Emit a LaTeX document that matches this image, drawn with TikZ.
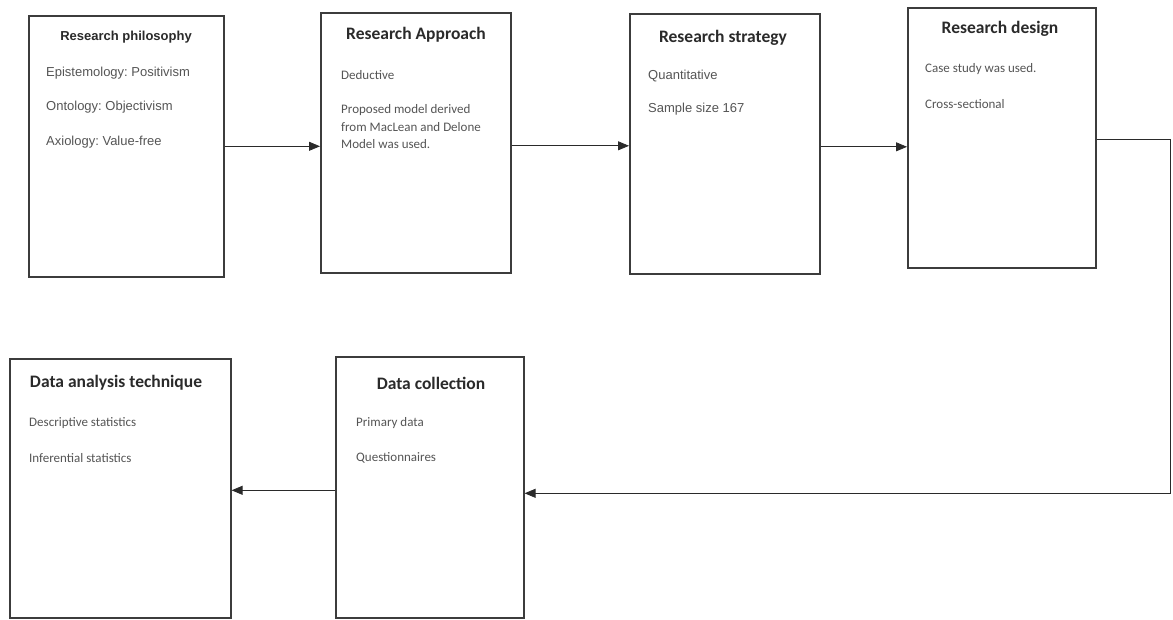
\documentclass[tikz,border=0pt]{standalone}
\usepackage{fontspec}
\setmainfont{Carlito}
\newfontfamily\arialfont{Liberation Sans}
\usetikzlibrary{arrows.meta, positioning}
\definecolor{boxline}{HTML}{3C3C3C}
\definecolor{inktext}{HTML}{2A2A2A}
\frenchspacing
\tikzset{
  stagebox/.style={
    rectangle, draw=boxline, line width=1.6pt, fill=white,
    anchor=north west, inner sep=0pt,
    minimum width=#1
  },
  headtext/.style={
    font=\fontsize{17.5}{20}\selectfont\bfseries, text=inktext,
    inner sep=0pt
  },
  itemtext/.style={
    font=\fontsize{13}{17.5}\selectfont, text=inktext!80,
    anchor=west, inner sep=0pt, align=left
  },
  sanstext/.style={
    font=\arialfont\fontsize{13}{15}\selectfont, text=inktext!80,
    anchor=west, inner sep=0pt
  },
  flowarrow/.style={-{Triangle[length=11pt,width=9pt]}, line width=0.8pt, color=inktext},
}
\begin{document}
\begin{tikzpicture}[x=1pt, y=-1pt]
  \useasboundingbox (0,0) rectangle (1173,619);
  % top row
  \node[stagebox=195pt, minimum height=261pt] (phil) at (28,15) {};
  \node[stagebox=190pt, minimum height=260pt] (appr) at (320,12) {};
  \node[stagebox=190pt, minimum height=260pt] (strat) at (629,13) {};
  \node[stagebox=188pt, minimum height=260pt] (design) at (907,7) {};
  % bottom row
  \node[stagebox=221pt, minimum height=259pt] (anal) at (9,358) {};
  \node[stagebox=188pt, minimum height=261pt] (coll) at (335,356) {};

  % research philosophy
  \node[headtext, font=\arialfont\fontsize{13}{15}\selectfont\bfseries] (philhead) at (126,37) {Research philosophy};
  \node[sanstext] (phil1) at (46,73) {Epistemology: Positivism};
  \node[sanstext] (phil2) at (46,107) {Ontology: Objectivism};
  \node[sanstext] (phil3) at (46,142) {Axiology: Value-free};

  % research approach
  \node[headtext] (apprhead) at (416,35) {Research Approach};
  \node[itemtext] (appr1) at (341,75) {Deductive};
  \node[itemtext] (appr2) at (341,127) {Proposed model derived\\from MacLean and Delone\\Model was used.};

  % research strategy
  \node[headtext] (strathead) at (723,38) {Research strategy};
  \node[sanstext] (strat1) at (648,76) {Quantitative};
  \node[sanstext] (strat2) at (648,109) {Sample size 167};

  % research design
  \node[headtext] (designhead) at (1000,29) {Research design};
  \node[itemtext] (design1) at (925,69) {Case study was used.};
  \node[itemtext] (design2) at (925,104) {Cross-sectional};

  % data analysis technique
  \node[headtext] (analhead) at (116,383) {Data analysis technique};
  \node[itemtext] (anal1) at (29,423) {Descriptive statistics};
  \node[itemtext] (anal2) at (29,458) {Inferential statistics};

  % data collection
  \node[headtext] (collhead) at (431,383) {Data collection};
  \node[itemtext] (coll1) at (356,423) {Primary data};
  \node[itemtext] (coll2) at (356,458) {Questionnaires};

  % connectors
  \coordinate (turn) at (1170,139);
  \draw[flowarrow] (phil.east) -- (phil.east -| appr.west);
  \draw[flowarrow] ([yshift=-3pt]appr.east) -- ([yshift=-3pt]appr.east -| strat.west);
  \draw[flowarrow] ([yshift=-3pt]strat.east) -- ([yshift=-3pt]strat.east -| design.west);
  \draw[flowarrow] ([yshift=-2pt]design.east) -- ([yshift=-2pt]design.east -| turn) |- ([yshift=-6pt]coll.east);
  \draw[flowarrow] ([yshift=-3pt]coll.west) -- ([yshift=-3pt]coll.west -| anal.east);
\end{tikzpicture}
\end{document}
